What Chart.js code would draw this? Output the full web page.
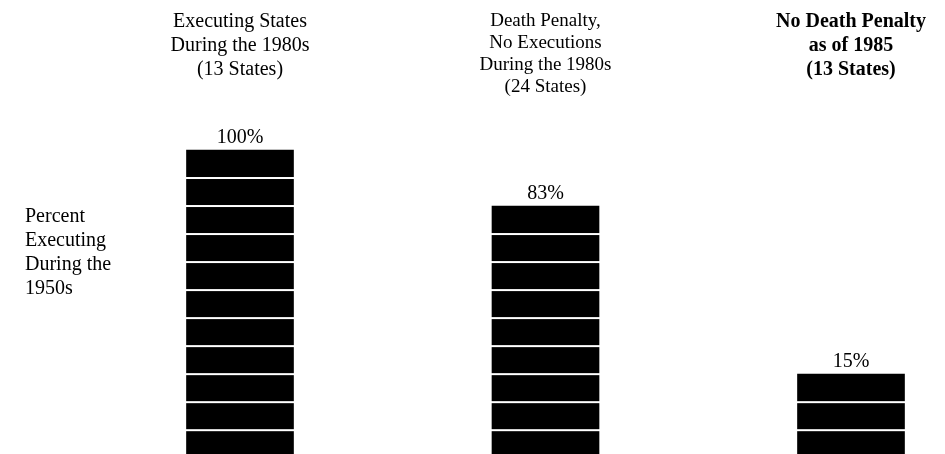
<!DOCTYPE html>
<html>
<head>
<meta charset="utf-8">
<script src="https://cdn.jsdelivr.net/npm/chart.js@4/dist/chart.umd.min.js"></script>
<style>
  html, body { margin: 0; padding: 0; background: #fff; }
  #wrap { width: 945px; height: 454px; position: relative; }
</style>
</head>
<body>
<div id="wrap"><canvas id="penaltyChart"></canvas></div>
<script>
// column headings (one per bar)
const groupTitles = [
  ['Executing States', 'During the 1980s', '(13 States)'],
  ['Death Penalty,', 'No Executions', 'During the 1980s', '(24 States)'],
  ['No Death Penalty', 'as of 1985', '(13 States)']
];
// printed value over each bar
const percentExecuting = [100, 83, 15];
// how tall each bar is drawn, counted in striped blocks
const barBlocks = [11, 9, 3];
const sideLabel = ['Percent', 'Executing', 'During the', '1950s'];

const serif = "'Liberation Serif', 'Times New Roman', serif";

// white bands between the blocks of each bar
const stripes = {
  id: 'stripes',
  afterDatasetsDraw(chart) {
    const ctx = chart.ctx;
    const y = chart.scales.y;
    chart.getDatasetMeta(0).data.forEach((bar, i) => {
      ctx.save();
      ctx.fillStyle = '#fff';
      for (let k = 1; k < barBlocks[i]; k++) {
        const py = y.getPixelForValue(k);
        ctx.fillRect(bar.x - bar.width / 2 - 1, py - 1, bar.width + 2, 2);
      }
      ctx.restore();
    });
  }
};

const valueLabels = {
  id: 'valueLabels',
  afterDatasetsDraw(chart) {
    const ctx = chart.ctx;
    ctx.save();
    ctx.fillStyle = '#000';
    ctx.font = '20px ' + serif;
    ctx.textAlign = 'center';
    ctx.textBaseline = 'bottom';
    chart.getDatasetMeta(0).data.forEach((bar, i) => {
      ctx.fillText(percentExecuting[i] + '%', bar.x, bar.y - 2);
    });
    ctx.restore();
  }
};

const sideText = {
  id: 'sideText',
  afterDraw(chart) {
    const ctx = chart.ctx;
    ctx.save();
    ctx.fillStyle = '#000';
    ctx.font = '20px ' + serif;
    ctx.textAlign = 'left';
    ctx.textBaseline = 'middle';
    sideLabel.forEach((t, i) => ctx.fillText(t, 25, 217 + i * 24));
    ctx.restore();
  }
};

Chart.defaults.color = '#000';
Chart.defaults.font.family = serif;

new Chart(document.getElementById('penaltyChart'), {
  type: 'bar',
  data: {
    labels: groupTitles,
    datasets: [{
      data: barBlocks,
      backgroundColor: '#000',
      borderWidth: 0,
      barThickness: 107,
      clip: false
    }]
  },
  options: {
    responsive: true,
    maintainAspectRatio: false,
    animation: false,
    layout: { padding: { left: 240, right: 94, top: 0, bottom: 0 } },
    plugins: {
      legend: { display: false },
      tooltip: { enabled: false }
    },
    scales: {
      x: {
        position: 'top',
        offset: false,
        grid: { display: false, drawTicks: false },
        border: { display: false },
        ticks: {
          maxRotation: 0,
          autoSkip: false,
          crossAlign: 'far',
          padding: 52,
          font: (c) => c.index === 1
            ? { size: 19, lineHeight: 1.16 }
            : { size: 20, lineHeight: 1.2, weight: c.index === 2 ? 'bold' : 'normal' }
        },
        afterFit(scale) {
          scale.height = 150;
          // labels overhang is already covered by the layout padding
          scale.paddingLeft = 0;
          scale.paddingRight = 0;
        }
      },
      y: {
        display: false,
        min: 0.15,
        max: 11
      }
    }
  },
  plugins: [stripes, valueLabels, sideText]
});
</script>
</body>
</html>
